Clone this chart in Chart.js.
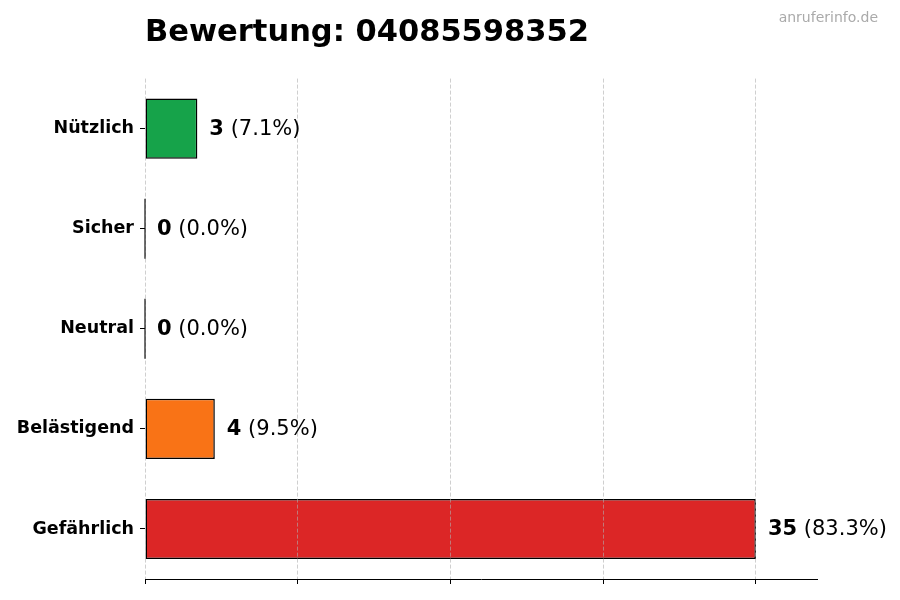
<!DOCTYPE html>
<html>
<head>
<meta charset="utf-8">
<script src="https://cdn.jsdelivr.net/npm/chart.js@4.4.1/dist/chart.umd.min.js"></script>
<style>
  body { margin: 0; background: #fff; }
</style>
</head>
<body>
<canvas id="ratingChart" width="900" height="600"></canvas>
<script>
// data
const categories = ["Nützlich", "Sicher", "Neutral", "Belästigend", "Gefährlich"];
const counts = [3, 0, 0, 4, 35];
const barColors = ["#16a34a", "#9ca3af", "#6b7280", "#f97316", "#dc2626"];
const xMax = 38.5;
const tickStep = 8.75;
const titleText = "Bewertung: 04085598352";
const watermarkText = "anruferinfo.de";

const FONT = '"DejaVu Sans", sans-serif';
const total = counts.reduce((a, b) => a + b, 0);

const valueLabels = {
    id: "valueLabels",
    afterDraw(chart) {
        const ctx = chart.ctx;
        const meta = chart.getDatasetMeta(0);
        ctx.save();
        ctx.textBaseline = "middle";
        ctx.fillStyle = "#000";
        meta.data.forEach((bar, i) => {
            const v = counts[i];
            if (v === 0) {
                // zero-width bar: only its edge shows
                ctx.strokeStyle = "#111";
                ctx.lineWidth = 1.2;
                ctx.beginPath();
                ctx.moveTo(bar.x, bar.y - bar.height / 2);
                ctx.lineTo(bar.x, bar.y + bar.height / 2);
                ctx.stroke();
            }
            let x = bar.x + 12;
            const num = String(v);
            ctx.font = "bold 21px " + FONT;
            ctx.fillText(num, x, bar.y + 1);
            x += ctx.measureText(num).width;
            ctx.font = "21px " + FONT;
            ctx.fillText(" (" + (v / total * 100).toFixed(1) + "%)", x, bar.y + 1);
        });
        ctx.font = "14px " + FONT;
        ctx.fillStyle = "#aaaaaa";
        ctx.textAlign = "right";
        ctx.textBaseline = "alphabetic";
        ctx.fillText(watermarkText, 878, 22);
        ctx.restore();
    },
};

new Chart(document.getElementById("ratingChart"), {
    type: "bar",
    data: {
        labels: categories,
        datasets: [
            {
                data: counts,
                backgroundColor: barColors,
                borderColor: "#000",
                borderWidth: 1.5,
                borderSkipped: false,
                barPercentage: 0.6,
                categoryPercentage: 1,
            },
        ],
    },
    options: {
        indexAxis: "y",
        responsive: false,
        animation: false,
        layout: { padding: { right: 83 } },
        plugins: {
            legend: { display: false },
            tooltip: { enabled: false },
            title: {
                display: true,
                text: titleText,
                align: "start",
                fullSize: false,
                color: "#000",
                font: { family: FONT, size: 30.5, weight: "bold" },
                padding: { top: 15, bottom: 27 },
            },
        },
        scales: {
            x: {
                type: "linear",
                min: 0,
                max: xMax,
                grid: {
                    color: "rgba(175,175,175,0.6)",
                    lineWidth: 1,
                    tickLength: 5,
                    tickColor: "#000",
                    tickWidth: 1,
                    tickBorderDash: [],
                    z: 1,
                },
                border: { display: true, color: "#000", width: 1, dash: [4, 2], z: 1 },
                ticks: { display: false, stepSize: tickStep, includeBounds: false },
                afterFit(scale) {
                    scale.height = 21;
                },
            },
            y: {
                type: "category",
                offset: true,
                grid: {
                    drawOnChartArea: false,
                    offset: false,
                    tickLength: 5,
                    tickColor: "#000",
                    tickWidth: 1,
                },
                border: { display: false },
                ticks: {
                    color: "#000",
                    padding: 6,
                    font: { family: FONT, size: 17.5, weight: "bold" },
                },
                afterFit(scale) {
                    scale.width = 145;
                },
            },
        },
    },
    plugins: [valueLabels],
});
</script>
</body>
</html>
